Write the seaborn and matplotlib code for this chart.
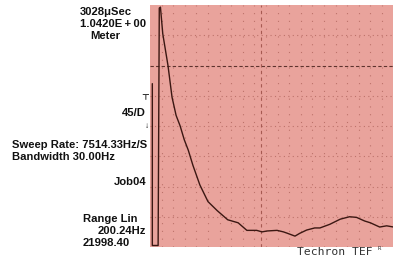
import numpy as np
import pandas as pd
import seaborn as sns
import matplotlib.pyplot as plt

# trace: x in minor divisions, y in major divisions
time_div = [0.2, 0.2, 0.7, 0.8, 0.9, 1.1, 1.55, 1.9, 2.25, 2.6, 2.95, 3.3, 3.7, 4.3,
            5.0, 5.8, 6.7, 7.6, 8.35, 9.2, 9.65, 10.1, 10.95, 11.5, 11.8, 12.5, 12.9,
            13.5, 14.2, 14.65, 15.5, 16.4, 17.2, 17.8, 18.5, 19.0, 19.8, 20.4, 21.0]
level_div = [5.4, 0.05, 0.05, 7.9, 7.93, 7.05, 6.0, 4.95, 4.35, 4.0, 3.55, 3.2, 2.7, 2.05,
             1.5, 1.2, 0.9, 0.8, 0.55, 0.55, 0.5, 0.53, 0.55, 0.5, 0.46, 0.36, 0.45,
             0.56, 0.63, 0.63, 0.75, 0.92, 1.0, 0.98, 0.86, 0.8, 0.66, 0.7, 0.66]

cursor_t = 9.57
cursor_lvl = 6.0

W, H = 393, 257
BG = '#e9a39c'
DOT = '#a0524a'
INK = '#3b1712'

sns.set_style('white', {'axes.facecolor': BG})
plt.rcParams['font.family'] = ['Liberation Sans', 'DejaVu Sans']

fig = plt.figure(figsize=(W / 100, H / 100), dpi=100)
ax = fig.add_axes([150 / W, 10 / H, 243 / W, 242 / H])

# dot grid
for xv in np.arange(1, 21):
    ax.axvline(xv, color=DOT, lw=0.8, ls=(0, (1, 6)), alpha=0.6, zorder=1)
for yv in range(1, 8):
    if yv != cursor_lvl:
        ax.axhline(yv, color=DOT, lw=0.8, ls=(0, (1, 3)), alpha=0.6, zorder=1)
ax.axhline(cursor_lvl, color=INK, lw=0.8, ls=(0, (3, 2)), alpha=0.8, zorder=2)
ax.axvline(cursor_t, color=DOT, lw=0.8, ls=(0, (3, 3)), alpha=0.9, zorder=2)

df = pd.DataFrame({'t': time_div, 'lvl': level_div})
sns.lineplot(data=df, x='t', y='lvl', sort=False, estimator=None,
             color=INK, lw=1.0, ax=ax, zorder=3)

ax.set_xlim(0, 243 / 11.6)
ax.set_ylim(0, 8)
ax.set_xlabel('')
ax.set_ylabel('')
ax.set_yticks(np.arange(0, 8.01, 0.2))
ax.set_xticks(np.arange(0, 21, 0.5))
ax.set_yticklabels([])
ax.set_xticklabels([])
ax.tick_params(direction='in', length=2, width=0.6, color='#7a3d36')
for s in ax.spines.values():
    s.set_visible(False)


def label(x, y, s, ha='left', size=8.1, **kw):
    fig.text(x / W, 1 - y / H, s, ha=ha, va='center', fontsize=size,
             fontweight='bold', color='#111111', **kw)


label(80, 12, '3028\u03bcSec')
label(80, 24, '1.0420E\u2009+\u200900')
label(90, 36, 'Meter')
label(146, 113, '45/D', ha='right')
label(149, 99, '\u22a4', ha='right', size=6)
label(149, 126, '\u2193', ha='right', size=6)
label(12, 145, 'Sweep Rate: 7514.33Hz/S')
label(12, 157, 'Bandwidth 30.00Hz')
label(146, 182, 'Job04', ha='right')
label(83, 219, 'Range Lin')
label(146, 231, '200.24Hz', ha='right')
label(83, 243, '21998.40')

fig.text(297 / W, 1 - 252 / H, 'Techron TEF', ha='left', va='center',
         fontsize=8.2, family='DejaVu Sans Mono', color='#333333')
fig.text(378 / W, 1 - 249 / H, 'R', ha='left', va='center',
         fontsize=4, family='DejaVu Sans Mono', color='#333333')

fig.savefig('out.png', dpi=100)
